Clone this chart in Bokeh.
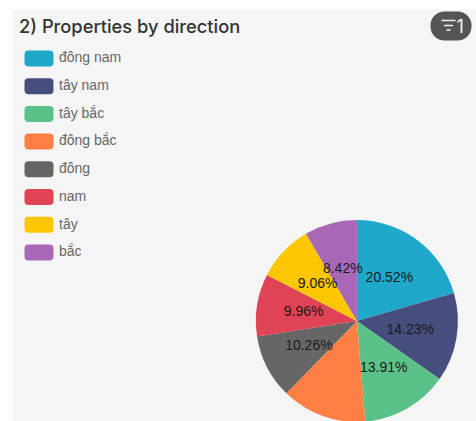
import math

from bokeh.core.properties import value
from bokeh.embed import file_html
from bokeh.models import ColumnDataSource, Range1d
from bokeh.plotting import figure
from bokeh.resources import INLINE

# Property share per compass direction, in percent
directions = ["đông nam", "tây nam", "tây bắc", "đông bắc", "đông", "nam", "tây", "bắc"]
shares = [20.52, 14.23, 13.91, 13.64, 10.26, 9.96, 9.06, 8.42]
slice_labels = ["20.52%", "14.23%", "13.91%", "", "10.26%", "9.96%", "9.06%", "8.42%"]
colors = ["#1FA8C9", "#454E7C", "#5AC189", "#FF7F44", "#666666", "#E04355", "#FCC700", "#A868B7"]
title_text = "2) Properties by direction"
badge_text = "1"

W, H = 476, 421


def flip(y):
    """Convert a top-down pixel row into the figure's y coordinate."""
    return H - y


p = figure(
    width=W, height=H, output_backend="svg", toolbar_location=None,
    x_range=Range1d(0, W), y_range=Range1d(0, H),
    min_border=0, outline_line_color=None, border_fill_color="white",
    background_fill_color="white",
)
p.axis.visible = False
p.grid.visible = False

# Card background
p.quad(left=12, right=W, top=flip(9), bottom=0, fill_color="#F5F5F5", line_color=None)

# Title
p.text(x=[18.5], y=[flip(25)], text=[title_text], text_font=value("Inter Medium, Inter"),
       text_font_size="18.3px", text_color="#333333",
       text_align="left", text_baseline="middle")

# Filter badge: pill, funnel icon made of three shrinking bars, and count
p.quad(left=430, right=471, top=flip(11), bottom=flip(40), fill_color="#555555",
       line_color=None, border_radius=14)
p.segment(x0=[441, 443.5, 446], x1=[455, 452.5, 450],
          y0=[flip(20), flip(25), flip(29.5)], y1=[flip(20), flip(25), flip(29.5)],
          line_color="#F4F4F4", line_width=1.4)
p.text(x=[456], y=[flip(25)], text=[badge_text], text_font=value("Inter"),
       text_font_size="18px", text_color="#F4F4F4", text_align="left",
       text_baseline="middle")

# Legend
row_tops = [50 + 27.7 * i for i in range(len(directions))]
legend = ColumnDataSource(dict(
    left=[24] * len(directions),
    right=[53] * len(directions),
    top=[flip(t) for t in row_tops],
    bottom=[flip(t + 16) for t in row_tops],
    color=colors,
    tx=[58.5] * len(directions),
    ty=[flip(t + 6.8) for t in row_tops],
    label=directions,
))
p.quad(left="left", right="right", top="top", bottom="bottom", source=legend,
       fill_color="color", line_color=None, border_radius=4)
p.text(x="tx", y="ty", text="label", source=legend, text_font=value("Liberation Sans"),
       text_font_size="14px", text_color="#666666", text_align="left",
       text_baseline="middle")

# Pie, clockwise from twelve o'clock
cx, cy, radius = 356.4, flip(320.5), 101
label_radius = 54
label_lift = 1
total = sum(shares)
starts, ends, lx, ly = [], [], [], []
running = 0.0
for share in shares:
    a0 = math.pi / 2 - 2 * math.pi * running / total
    running += share
    a1 = math.pi / 2 - 2 * math.pi * running / total
    mid = (a0 + a1) / 2
    starts.append(a0)
    ends.append(a1)
    lx.append(cx + label_radius * math.cos(mid))
    ly.append(cy + label_radius * math.sin(mid) + label_lift)

pie = ColumnDataSource(dict(start=starts, end=ends, color=colors, lx=lx, ly=ly, label=slice_labels))
p.wedge(x=cx, y=cy, radius=radius, start_angle="start", end_angle="end",
        direction="clock", source=pie, fill_color="color", line_color=None)
p.text(x="lx", y="ly", text="label", source=pie, text_font=value("Liberation Sans"),
       text_font_size="14px", text_color="#1A1A1A", text_align="center",
       text_baseline="middle")

open("out.html", "w").write(file_html(p, INLINE))
